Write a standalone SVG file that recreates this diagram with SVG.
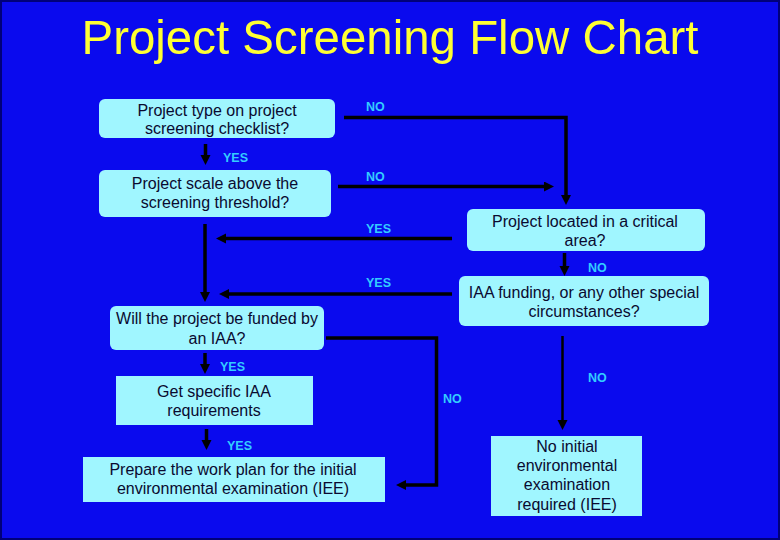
<svg xmlns="http://www.w3.org/2000/svg" width="780" height="540" viewBox="0 0 780 540">
<defs>
<marker id="ah" markerUnits="userSpaceOnUse" markerWidth="11" markerHeight="11" refX="4" refY="5" orient="auto">
<path d="M0,0 L10,5 L0,10 z" fill="#000"/>
</marker>
<style>
.bg{fill:#0A0AEE;stroke:#00007A;stroke-width:2}
.title{font-family:"Liberation Sans",Arial,sans-serif;font-size:49px;fill:#FFFF33}
.box{fill:#A0F6FF}
.t{font-family:"Liberation Sans",Arial,sans-serif;font-size:16px;fill:#0A0A30;text-anchor:middle}
.lbl{font-family:"Liberation Sans",Arial,sans-serif;font-size:12.5px;font-weight:bold;fill:#33CCFF}
.c{fill:none;stroke:#000;stroke-width:3.5;marker-end:url(#ah)}
.thin{stroke-width:2.5}
</style>
</defs>
<rect class="bg" x="1" y="1" width="778" height="538"/>
<text class="title" x="390" y="54" text-anchor="middle" textLength="617" lengthAdjust="spacingAndGlyphs">Project Screening Flow Chart</text>

<g id="connectors">
<path class="c" d="M344,117.5 H566 V199"/>
<path class="c" d="M205.5,144 V159"/>
<path class="c" d="M338,186.5 H548"/>
<path class="c" d="M452,238.5 H222"/>
<path class="c" d="M205,224 V296"/>
<path class="c" d="M452,294 H225"/>
<path class="c" d="M564.5,253 V270"/>
<path class="c" d="M205,353 V368"/>
<path class="c" d="M326,338 H436.5 V485 H402"/>
<path class="c" d="M206.5,429 V444"/>
<path class="c thin" d="M562.5,336 V424"/>
</g>

<g id="labels">
<text class="lbl" x="366" y="111">NO</text>
<text class="lbl" x="223" y="162">YES</text>
<text class="lbl" x="366" y="180.5">NO</text>
<text class="lbl" x="366" y="233">YES</text>
<text class="lbl" x="588" y="272">NO</text>
<text class="lbl" x="366" y="287">YES</text>
<text class="lbl" x="220" y="371">YES</text>
<text class="lbl" x="588" y="382">NO</text>
<text class="lbl" x="443" y="403">NO</text>
<text class="lbl" x="227" y="450">YES</text>
</g>

<g id="n1">
<rect class="box" x="99" y="99" width="236" height="39" rx="6"/>
<text class="t" x="217" y="115.5">Project type on project</text>
<text class="t" x="217" y="134">screening checklist?</text>
</g>
<g id="n2">
<rect class="box" x="99" y="170" width="232" height="47" rx="6"/>
<text class="t" x="215" y="189">Project scale above the</text>
<text class="t" x="215" y="208">screening threshold?</text>
</g>
<g id="n3">
<rect class="box" x="467" y="209" width="238" height="42" rx="6"/>
<text class="t" x="585" y="227">Project located in a critical</text>
<text class="t" x="585" y="246">area?</text>
</g>
<g id="n4">
<rect class="box" x="459" y="276" width="250" height="50" rx="6"/>
<text class="t" x="584" y="298">IAA funding, or any other special</text>
<text class="t" x="584" y="317">circumstances?</text>
</g>
<g id="n5">
<rect class="box" x="110" y="306" width="214" height="44" rx="6"/>
<text class="t" x="217" y="324">Will the project be funded by</text>
<text class="t" x="217" y="343.5">an IAA?</text>
</g>
<g id="n6">
<rect class="box" x="116" y="376" width="197" height="49"/>
<text class="t" x="214" y="397">Get specific IAA</text>
<text class="t" x="214" y="416">requirements</text>
</g>
<g id="n7">
<rect class="box" x="83" y="457" width="302" height="45"/>
<text class="t" x="233" y="475">Prepare the work plan for the initial</text>
<text class="t" x="233" y="494">environmental examination (IEE)</text>
</g>
<g id="n8">
<rect class="box" x="491" y="436" width="151" height="80"/>
<text class="t" x="567" y="452">No initial</text>
<text class="t" x="567" y="471">environmental</text>
<text class="t" x="567" y="490">examination</text>
<text class="t" x="567" y="510">required (IEE)</text>
</g>
</svg>
